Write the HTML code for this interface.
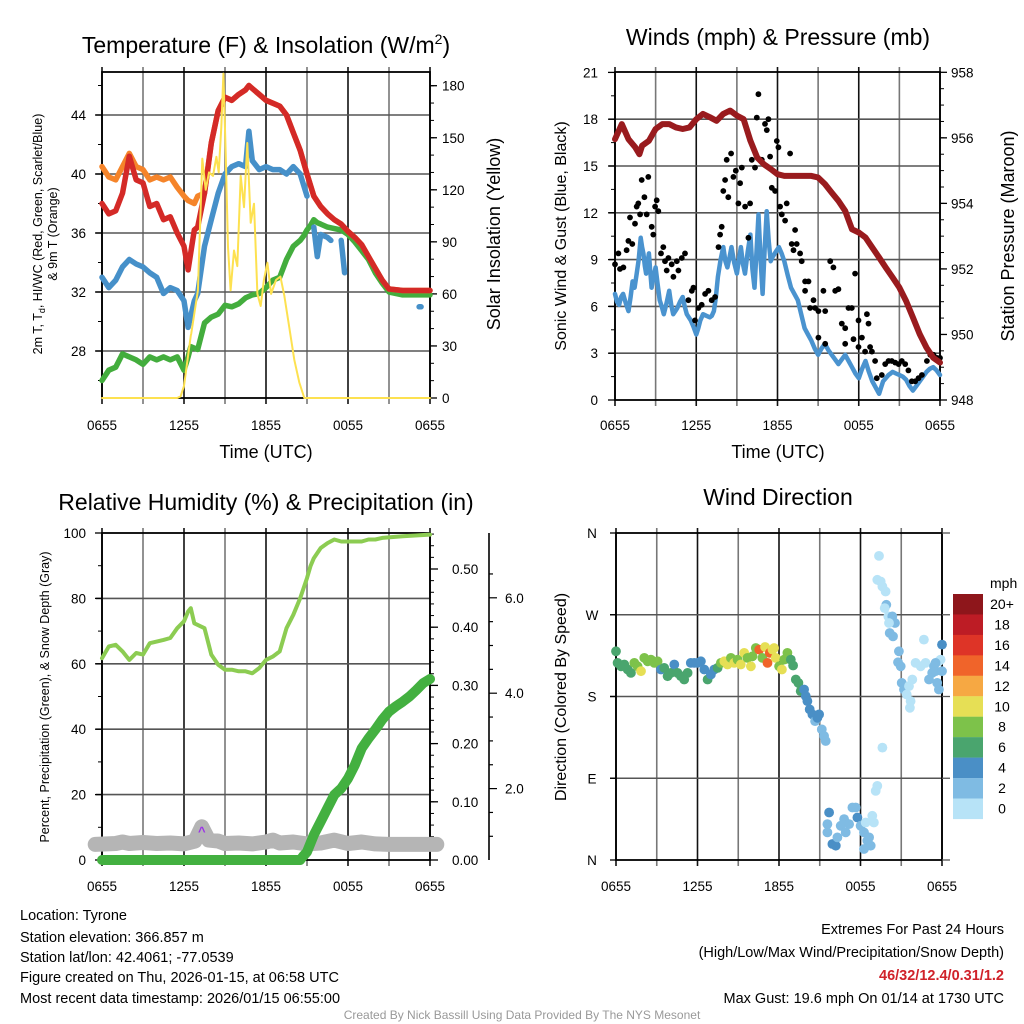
<!DOCTYPE html>
<html><head><meta charset="utf-8"><style>
html,body{margin:0;padding:0;background:#fff}
svg{display:block;font-family:"Liberation Sans",Arial,sans-serif}
</style></head><body>
<svg id="c" width="1024" height="1024" viewBox="0 0 1024 1024">
<rect width="1024" height="1024" fill="#fff"/>
<text x="266" y="53" font-size="23" text-anchor="middle">Temperature (F) &amp; Insolation (W/m<tspan dy="-9" font-size="14">2</tspan><tspan dy="9">)</tspan></text>
<text x="778" y="45" font-size="23" text-anchor="middle">Winds (mph) &amp; Pressure (mb)</text>
<text x="266" y="510" font-size="23" text-anchor="middle">Relative Humidity (%) &amp; Precipitation (in)</text>
<text x="778" y="505" font-size="23" text-anchor="middle">Wind Direction</text>
<text x="266" y="458" font-size="18" text-anchor="middle">Time (UTC)</text>
<text x="778" y="458" font-size="18" text-anchor="middle">Time (UTC)</text>
<text transform="translate(42,234) rotate(-90)" font-size="12.5" text-anchor="middle">2m T, T<tspan dy="3" font-size="9">d</tspan><tspan dy="-3">, HI/WC (Red, Green, Scarlet/Blue)</tspan></text>
<text transform="translate(57,234) rotate(-90)" font-size="12.5" text-anchor="middle">&amp; 9m T (Orange)</text>
<text transform="translate(500,234) rotate(-90)" font-size="18" text-anchor="middle">Solar Insolation (Yellow)</text>
<text transform="translate(566,236) rotate(-90)" font-size="16" text-anchor="middle">Sonic Wind &amp; Gust (Blue, Black)</text>
<text transform="translate(1014,236) rotate(-90)" font-size="18" text-anchor="middle">Station Pressure (Maroon)</text>
<text transform="translate(49,697) rotate(-90)" font-size="12.5" text-anchor="middle">Percent, Precipitation (Green), &amp; Snow Depth (Gray)</text>
<text transform="translate(566,697) rotate(-90)" font-size="16" text-anchor="middle">Direction (Colored By Speed)</text>
<g font-size="14.5">
<text x="20" y="920">Location: Tyrone</text>
<text x="20" y="942">Station elevation: 366.857 m</text>
<text x="20" y="962">Station lat/lon: 42.4061; -77.0539</text>
<text x="20" y="982">Figure created on Thu, 2026-01-15, at 06:58 UTC</text>
<text x="20" y="1003">Most recent data timestamp: 2026/01/15 06:55:00</text>
</g>
<g font-size="14.5" text-anchor="end">
<text x="1004" y="934">Extremes For Past 24 Hours</text>
<text x="1004" y="957">(High/Low/Max Wind/Precipitation/Snow Depth)</text>
<text x="1004" y="980" fill="#d0222a" font-weight="bold">46/32/12.4/0.31/1.2</text>
<text x="1004" y="1003">Max Gust: 19.6 mph On 01/14 at 1730 UTC</text>
</g>
<text x="522" y="1019" font-size="12" fill="#999" text-anchor="middle">Created By Nick Bassill Using Data Provided By The NYS Mesonet</text>
</svg>
<script>
// ---------- DATA ----------
const xTickLabels=["0655","1255","1855","0055","0655"];
// Temperature panel
const tHours=[0,0.5,1,1.5,2,2.5,3,3.5,4,4.5,5,5.5,6,6.3,6.75,7,7.5,8,8.5,9,9.5,10,10.5,10.75,11,11.5,12,12.5,13,13.5,14,14.5,15,15.5,16,16.5,17,17.5,18,18.5,19,19.5,20,20.5,21,22,23,24];
const tempRed=[38.0,37.3,37.5,38.7,41.2,39.6,39.4,37.8,38.0,36.9,37.1,36.0,35.1,33.5,36.2,36.4,38.7,42.1,44.3,45.2,45.0,45.4,45.7,46.0,45.8,45.4,45.0,44.8,44.6,44.0,42.8,41.6,40.0,38.5,37.8,37.3,36.9,36.6,36.1,35.7,35.2,34.4,33.6,32.8,32.2,32.1,32.1,32.1];
const tempOrange=[40.5,39.8,39.6,40.5,41.4,40.5,40.3,39.6,39.8,39.6,39.8,39.1,38.5,38.2,38.0,38.5,38.7,42.1,44.3,45.2,45.0,45.4,45.7,46.0,45.8,45.4,45.0,44.8,44.6,44.0,42.8,41.6,40.0,38.5,37.8,37.3,36.9,36.6,36.1,35.7,35.2,34.4,33.6,32.8,32.2,32.1,32.1,32.1];
const wcHours=[0,0.5,1,1.5,2,2.5,3,3.5,4,4.5,5,5.5,6,6.3,6.75,7,7.5,8,8.5,9,9.5,10,10.5,10.75,11,11.5,12,12.5,13,13.5,14,14.5,14.8,15,15.3,15.5,15.75,16,16.5,16.75,17.2,17.5,17.75,17.8,23.2,23.35];
const tempBlue=[33.0,32.3,32.8,33.7,34.2,33.9,33.7,33.3,33.0,31.9,32.3,32.1,31.4,29.6,31.4,31.9,35.1,36.9,38.7,40.0,40.5,40.7,40.5,42.9,40.9,40.3,40.5,40.3,40.3,40.0,40.5,40.0,39.1,38.5,null,36.4,34.4,35.9,35.7,35.5,null,35.5,33.3,null,31.0,31.0];
const tempGreen=[26.0,26.7,26.9,27.8,27.6,27.4,27.1,27.6,27.4,27.6,27.4,27.6,26.7,27.6,28.3,28.1,29.9,30.3,30.5,31.1,31.0,31.2,31.6,31.7,31.8,31.9,32.3,32.8,33.0,34.2,35.1,35.5,35.8,36.2,36.5,36.9,36.7,36.6,36.5,36.4,36.3,36.2,35.9,35.4,34.8,34.2,33.3,32.6,32.0,31.8,31.8,31.8];
const dpHours=[0,0.5,1,1.5,2,2.5,3,3.5,4,4.5,5,5.5,6,6.3,6.5,7,7.5,8,8.5,9,9.5,10,10.5,10.75,11,11.5,12,12.5,13,13.5,14,14.5,14.75,15,15.25,15.5,15.75,16,16.25,16.5,17,17.5,18,18.5,19,19.5,20,20.5,21,22,23,24];
const solHours=[0,5.5,5.75,6,6.5,6.53,7.02,7.34,7.59,7.83,8.12,8.37,8.54,8.73,8.88,9.05,9.22,9.41,9.66,9.9,10.15,10.39,10.63,10.88,11.12,11.37,11.61,11.85,12.1,12.37,12.73,13.05,13.34,13.7,14.07,14.44,14.8,24];
const solar=[0,0,1,7,36,37,62,138,120,130,128,139,130,156,187,141,87,62,85,76,128,110,147,101,112,60,53,68,78,60,68,70,59,41,22,9,0,0];
// Winds panel
const wHours=[0,0.15,0.3,0.45,0.6,0.8,1,1.15,1.3,1.45,1.6,1.75,1.9,2.0,2.1,2.2,2.3,2.4,2.5,2.6,2.7,2.85,3,3.15,3.3,3.45,3.6,3.8,4,4.15,4.3,4.45,4.6,4.8,5,5.15,5.3,5.45,5.6,5.8,6,6.15,6.3,6.4,6.5,6.75,7,7.15,7.3,7.45,7.6,7.8,8,8.15,8.3,8.45,8.6,8.8,9,9.15,9.3,9.45,9.6,9.8,10,10.15,10.3,10.45,10.6,10.75,10.9,11.05,11.2,11.35,11.5,11.65,11.8,11.95,12.1,12.3,12.5,12.75,13,13.25,13.5,13.75,14,14.25,14.5,14.75,15,15.25,15.5,15.75,16,16.25,16.5,16.75,17,17.25,17.5,17.75,18,18.25,18.5,18.75,19,19.25,19.5,19.65,19.8,20,20.2,20.35,20.5,20.75,21,21.25,21.5,21.75,22,22.25,22.5,22.75,23,23.25,23.5,23.75,24];
const windSpeed=[6.8,6.3,6.1,6.6,6.8,6.2,5.7,6.6,7.6,7.2,8.1,9.0,10.4,9.8,9.4,8.6,8.1,8.8,9.4,8.3,7.2,7.9,8.5,7.4,6.4,6.0,5.5,6.2,7.0,6.1,5.5,5.7,5.9,6.3,6.6,6.0,5.5,5.3,5.1,4.7,4.2,4.6,5.1,5.3,5.5,5.4,5.3,5.4,5.7,6.6,7.9,9.0,9.8,8.9,8.5,9.1,9.8,8.8,8.1,9.0,9.8,8.7,8.1,9.5,10.6,8.4,7.2,9.5,11.9,9.0,6.8,9.6,12.1,10.2,8.9,9.2,9.4,9.6,9.8,9.4,8.9,8.0,7.2,6.8,6.4,5.5,4.6,4.2,3.8,3.3,2.9,3.3,3.6,3.2,2.9,2.6,2.3,2.6,2.9,2.5,2.1,1.7,1.4,2.0,2.5,1.8,1.2,0.8,0.4,0.8,1.2,1.4,1.6,1.7,1.8,1.7,1.6,1.5,1.3,0.9,0.6,0.9,1.2,1.5,1.8,2.0,2.1,1.9,1.6];
const gustHours=[0,0.25,0.37,0.62,0.86,0.99,1.11,1.28,1.48,1.6,1.72,1.85,1.97,2.17,2.34,2.46,2.71,2.83,2.96,3.08,3.2,3.4,3.57,3.69,3.82,3.94,4.19,4.31,4.56,4.68,4.93,5.17,5.42,5.67,5.79,5.91,6.16,6.4,6.65,6.9,7.14,7.39,7.64,7.76,7.88,8.0,8.13,8.25,8.37,8.57,8.74,8.92,9.11,9.24,9.36,9.61,9.85,9.98,10.1,10.34,10.47,10.59,10.84,11.08,11.21,11.33,11.45,11.58,11.82,11.95,12.07,12.19,12.32,12.56,12.68,12.93,13.05,13.18,13.3,13.42,13.67,13.79,14.04,14.29,14.04,14.41,14.66,14.78,15.02,15.39,15.52,15.89,16.13,16.26,16.5,16.75,17.0,17.24,17.49,17.73,17.98,18.23,18.6,18.72,18.97,19.21,19.33,19.7,19.95,20.2,20.44,20.69,20.94,21.18,21.43,21.67,21.92,22.17,22.41,22.66,23.03,23.28,23.52,23.77,24.0,15.02,15.52,17.0,17.61,17.98,18.47,18.84];
const gusts=[8.7,9.4,8.4,8.5,9.6,10.2,11.7,10.0,11.3,12.4,12.6,11.9,14.1,13.0,11.9,14.3,11.1,10.6,12.4,12.8,12.1,9.4,9.8,8.9,8.3,9.1,8.7,7.9,8.9,8.3,9.1,9.4,6.4,7.0,7.2,5.1,5.9,6.1,6.8,7.0,6.4,6.6,9.8,10.6,11.1,13.4,14.1,15.4,13.0,15.8,14.3,14.7,12.6,13.9,14.9,12.4,10.4,12.6,15.4,14.9,18.1,19.6,15.4,17.7,17.3,18.0,15.6,13.6,13.4,16.6,16.2,12.4,11.9,11.5,12.6,15.8,10.0,9.6,10.9,10.0,9.4,8.9,7.6,7.6,7.0,5.9,6.4,5.9,5.7,7.0,5.7,8.9,8.5,7.0,7.1,4.9,4.6,5.9,5.9,8.1,5.1,4.0,5.5,4.9,3.1,2.5,1.4,1.6,2.3,2.5,2.5,2.4,2.3,2.5,2.3,1.9,1.2,1.2,1.4,1.6,2.5,2.9,2.9,2.7,2.7,4.0,3.6,3.6,3.9,3.4,3.1,3.4];
const pHours=[0,0.5,1,1.5,1.8,2,2.5,3,3.5,4,4.5,5,5.5,6,6.5,7,7.5,8,8.5,9,9.5,10,10.5,11,11.5,12,12.5,13,14,14.5,15,15.5,16,16.5,17,17.5,18,18.5,19,19.5,20,20.5,21,21.5,22,22.5,23,23.5,24];
const pressure=[955.96,956.42,955.96,955.71,955.5,955.76,955.91,956.27,956.42,956.42,956.32,956.27,956.32,956.57,956.73,956.63,956.52,956.73,956.83,956.68,956.57,955.91,955.40,955.19,955.05,954.89,954.84,954.84,954.84,954.84,954.79,954.59,954.33,954.08,953.77,953.21,953.11,952.96,952.65,952.35,952.04,951.74,951.43,951.02,950.52,950.01,949.60,949.29,949.14];
// RH panel
const rhHours=[0,0.5,1,1.5,2,2.5,3,3.5,4,4.5,5,5.5,6,6.3,6.5,6.75,7,7.5,8,8.5,9,9.5,10,10.5,11,11.5,12,12.5,13,13.5,14,14.5,15,15.25,15.5,16,16.5,17,17.5,18,19,19.5,20,20.5,22,24];
const relHum=[61.7,65.3,65.8,63.8,61.2,63.3,62.8,66.3,66.8,67.3,67.9,70.9,73.0,76.0,77.0,72.4,71.9,70.9,62.8,59.7,58.2,58.2,57.7,57.7,57.1,58.7,61.2,62.2,63.8,70.9,75.0,80.1,86.2,89.8,92.3,95.4,96.9,98.0,97.4,97.4,97.4,98.0,98.0,98.5,99.0,99.5];
const prHours=[0,14.5,14.7,15,15.5,16,16.5,17,17.5,18,18.5,19,19.5,20,20.5,21,21.5,22,22.5,23,23.5,24];
const precip=[0,0,0.006,0.014,0.043,0.066,0.089,0.112,0.123,0.140,0.163,0.192,0.209,0.224,0.241,0.255,0.264,0.272,0.281,0.292,0.304,0.311];
const snHours=[-0.5,1,1.5,2,3,4,5,6,6.8,7.3,7.8,8.5,9,10,11,12,12.5,13,14,15,16,17,18,19,20,21,22,23,24.5];
const snowDepth=[0.83,0.85,0.88,0.85,0.87,0.85,0.86,0.84,0.9,1.2,0.92,0.9,0.85,0.86,0.84,0.88,0.92,0.86,0.88,0.84,0.86,0.92,0.85,0.88,0.84,0.83,0.83,0.83,0.83];
// Wind direction panel
const dirHours=[0,0.12,0.37,0.61,0.86,1.10,1.35,1.59,1.84,2.08,2.33,2.57,2.82,3.06,3.31,3.55,3.80,4.04,4.29,4.53,4.78,5.02,5.27,5.51,5.76,6.00,6.25,6.50,6.74,6.99,7.23,7.48,7.72,7.97,8.21,8.46,8.70,8.95,9.19,9.44,9.68,9.93,10.05,10.29,10.54,10.78,10.98,11.15,11.32,11.52,11.64,11.76,12.01,12.21,12.38,12.62,12.87,13.04,13.24,13.43,13.60,13.85,13.97,14.09,14.26,14.46,14.66,14.83,14.95,15.15,15.32,15.44,15.69,15.56,15.93,16.18,15.56,16.30,16.54,16.79,16.91,17.16,17.40,17.65,17.77,18.01,18.26,18.38,18.50,18.63,18.75,18.26,18.87,18.99,19.12,19.24,19.61,19.36,19.24,19.49,19.61,19.85,19.90,19.78,20.05,20.34,20.54,20.15,20.39,20.10,20.83,20.76,20.96,21.03,21.20,21.40,21.57,21.69,21.64,21.81,22.06,22.43,22.67,22.79,23.04,23.28,23.41,23.53,23.65,23.77,23.90,24.0,24.0,23.77,23.53];
const dirDeg=[229.8,217.0,213.3,215.2,209.7,206.0,217.0,213.3,207.8,222.5,218.8,220.6,217.0,218.8,209.7,211.5,202.3,206.0,215.2,206.0,202.3,198.7,206.0,217.0,217.0,217.0,218.8,209.7,198.7,204.2,209.7,211.5,217.0,218.8,215.2,222.5,217.0,220.6,215.2,228.0,222.5,213.3,224.3,233.4,231.6,222.5,234.5,217.0,228.0,231.6,233.4,222.5,213.3,209.7,220.6,228.0,220.6,214.1,198.7,195.0,185.9,187.7,180.4,174.9,165.8,160.3,152.9,156.6,160.3,143.8,136.5,131.0,52.3,39.5,17.6,15.7,30.4,24.9,37.7,45.0,30.4,39.5,57.8,57.8,46.8,37.7,30.4,41.3,21.2,24.9,15.7,12.1,48.7,41.3,76.1,81.6,123.7,334.8,308.5,306.6,301.1,295.6,281.0,277.3,268.2,268.2,260.9,249.9,246.2,260.9,229.8,217.7,213.3,195.0,187.7,182.2,191.4,174.9,167.6,198.7,217.0,213.3,242.6,217.0,198.7,206.0,213.3,207.8,195.0,187.7,220.6,237.1,207.8,218.8,217.0];
const dirSpeed=[6,6,6,6,6,6,8,8,10,8,8,8,8,8,4,6,6,6,4,6,6,6,6,4,4,4,4,4,6,4,4,6,8,10,10,8,10,8,10,10,8,10,8,8,14,8,10,14,14,10,10,10,8,10,8,8,6,6,6,6,6,4,4,4,4,4,2,4,4,2,2,2,4,2,4,4,2,2,2,2,2,2,2,2,4,2,2,0.5,2,2,2,2,0.5,0.5,0.5,0.5,0.5,0.5,0.5,0.5,0.5,0.5,2,0.5,0.5,2,2,2,2,0.5,2,2,2,2,2,0.5,0.5,0.5,0.5,0.5,0.5,0.5,0.5,0.5,2,2,2,2,2,2,0.5,4,2,0.5,2];
const speedLabels=["20+","18","16","14","12","10","8","6","4","2","0"];
const speedColors=["#8e161b","#bd1c25","#de3427","#f0642a","#f6a843","#e6df55","#7dc24a","#4aa56e","#4a8fc6","#7fbbe3","#b7e3f7"];

// ---------- DRAW ----------
const NS="http://www.w3.org/2000/svg";
const svg=document.getElementById('c');
function el(tag,attrs,parent){const e=document.createElementNS(NS,tag);for(const k in attrs)e.setAttribute(k,attrs[k]);(parent||svg).appendChild(e);return e;}
function lin(d0,d1,r0,r1){return v=>r0+(v-d0)*(r1-r0)/(d1-d0);}
function pathFrom(xs,ys,fx,fy){let d="",pen=false;for(let i=0;i<xs.length;i++){if(ys[i]===null){pen=false;continue;}d+=(pen?"L":"M")+fx(xs[i]).toFixed(1)+","+fy(ys[i]).toFixed(1);pen=true;}return d;}

const P1={L:102,R:430,T:72,B:398},P2={L:615,R:940,T:72,B:400},P3={L:102,R:430,T:533,B:860},P4={L:616,R:942,T:533,B:860};

function frame(P,name,hLines,fy,xlabY){
  const g=el('g',{});
  
  
  const fx=lin(0,24,P.L,P.R);
  for(let h=0;h<=24;h+=3){const x=fx(h);el('line',{x1:x,x2:x,y1:P.T-5,y2:P.B+6,stroke:(h%6===0)?'#111':'#777','stroke-width':1.6},g);}
  hLines.forEach(v=>{const y=fy(v);el('line',{x1:P.L-6,x2:P.R,y1:y,y2:y,stroke:'#555','stroke-width':1.6},g);});
  el('rect',{x:P.L,y:P.T,width:P.R-P.L,height:P.B-P.T,fill:'none',stroke:'#000','stroke-width':1.8},g);
  xTickLabels.forEach((t,i)=>{const tx=el('text',{x:fx(i*6),y:xlabY,'font-size':13.5,'text-anchor':'middle'},g);tx.textContent=t;
    
    });
  return fx;
}
function yTicks(P,side,vals,fy,fmt,minor,lx,len){
  const g=el('g',{});
  
  
  const x0=side==='left'?P.L:P.R,dir=side==='left'?-1:1;
  vals.forEach(v=>{const y=fy(v);el('line',{x1:x0,x2:x0+dir*(len||7),y1:y,y2:y,stroke:'#000','stroke-width':1.3},g);
    const t=el('text',{x:lx,y:y+5,'font-size':13.5,'text-anchor':side==='left'?'end':'start'},g);t.textContent=fmt(v);});
  (minor||[]).forEach(v=>{const y=fy(v);el('line',{x1:x0,x2:x0+dir*4,y1:y,y2:y,stroke:'#000','stroke-width':1},g);});
}
function range(a,b,s){const r=[];for(let v=a;v<=b+1e-9;v+=s)r.push(+v.toFixed(4));return r;}
function line(xs,ys,fx,fy,color,w,name){const p=el('path',{d:pathFrom(xs,ys,fx,fy),fill:'none',stroke:color,'stroke-width':w,'stroke-linejoin':'round','stroke-linecap':'round'});
  
  return p;}

// Panel 1
const ty=lin(40,44,174,115), iy=lin(0,180,398,85.7);
const fx1=frame(P1,'temperature',[28,32,36,40,44],ty,430);
yTicks(P1,'left',[28,32,36,40,44],ty,v=>v,[26,30,34,38,42,46],86);
yTicks(P1,'right',[0,30,60,90,120,150,180],iy,v=>v,range(10,180,10),442);
line(dpHours,tempGreen,fx1,ty,'#43ad3d',5.5,'dewpoint-line');
line(wcHours,tempBlue,fx1,ty,'#4690c9',5.5,'windchill-line');
line(tHours,tempOrange,fx1,ty,'#f5842a',5.5,'temp-9m-line');
line(tHours,tempRed,fx1,ty,'#d42a27',5.5,'temp-2m-line');
line(solHours,solar,fx1,iy,'#fde150',2,'insolation-line');

// Panel 2
const wy=lin(0,21,400,72.4), py=lin(948,958,400,72.3);
const fx2=frame(P2,'winds',[3,6,9,12,15,18],wy,430);
yTicks(P2,'left',[0,3,6,9,12,15,18,21],wy,v=>v,range(1.5,19.5,3),598);
yTicks(P2,'right',[948,950,952,954,956,958],py,v=>v,range(948.5,957.5,0.5),951);
line(wHours,windSpeed,fx2,wy,'#4a93cf',4.5,'sonic-wind-line');
gustHours.forEach((h,i)=>{const c=el('circle',{cx:fx2(h).toFixed(1),cy:wy(gusts[i]).toFixed(1),r:2.9,fill:'#000'});
  
  });
line(pHours,pressure,fx2,py,'#991b1e',6,'pressure-line');

// Panel 3
const ry=lin(0,100,860,533), pry=lin(0,0.5,860,569), sy=lin(0,2,884,788.6);
const fx3=frame(P3,'humidity',[20,40,60,80],ry,891);
yTicks(P3,'left',[0,20,40,60,80,100],ry,v=>v,[10,30,50,70,90],86);
yTicks(P3,'right',[0,0.1,0.2,0.3,0.4,0.5],pry,v=>v.toFixed(2),range(0.02,0.56,0.02),452,8);
(function(){const g=el('g',{});
  
  
  el('line',{x1:489,x2:489,y1:533,y2:860,stroke:'#000','stroke-width':1.6},g);
  range(1,6.5,0.5).forEach(v=>{const y=sy(v);if(y<533||y>860)return;const maj=(v%2===0);el('line',{x1:489,x2:489+(maj?8:4),y1:y,y2:y,stroke:'#000','stroke-width':1.2},g);
    if(maj){const t=el('text',{x:505,y:y+5,'font-size':13.5},g);t.textContent=v.toFixed(1);}});})();
line(snHours,snowDepth,fx3,sy,'#b5b5b5',15,'snow-depth-line');
line(rhHours,relHum,fx3,ry,'#8ccc52',4,'relative-humidity-line');
line(prHours,precip,fx3,pry,'#43b040',10,'precipitation-line');
(function(){const t=el('text',{x:fx3(7.3),y:sy(1.2)+9,'font-size':13,'font-weight':'bold',fill:'#9b30e8','text-anchor':'middle'});t.textContent='^';
  
  })();

// Panel 4
const dy=lin(0,360,860,533);
const fx4=frame(P4,'direction',[90,180,270],dy,891);
(function(){const g=el('g',{});
  
  
  ['N','E','S','W','N'].forEach((lab,i)=>{const y=dy(i*90);el('line',{x1:P4.L-6,x2:P4.L,y1:y,y2:y,stroke:'#000','stroke-width':1.3},g);
    el('line',{x1:P4.R,x2:P4.R+8,y1:y,y2:y,stroke:'#555','stroke-width':1.3},g);
    const t=el('text',{x:592,y:y+5,'font-size':13.5,'text-anchor':'middle'},g);t.textContent=lab;});})();
dirHours.forEach((h,i)=>{const idx=Math.max(0,10-Math.min(10,Math.round(dirSpeed[i]/2)));
  const c=el('circle',{cx:fx4(h).toFixed(1),cy:dy(dirDeg[i]).toFixed(1),r:4.9,fill:speedColors[idx]});
  
  });
(function(){const g=el('g',{});
  
  
  const t0=el('text',{x:990,y:588,'font-size':14,'text-anchor':'start'},g);t0.textContent='mph';
  speedLabels.forEach((lab,i)=>{const y=594+i*20.45;el('rect',{x:953,y:y,width:30,height:20.6,fill:speedColors[i]},g);
    const t=el('text',{x:1002,y:y+15,'font-size':14,'text-anchor':'middle'},g);t.textContent=lab;});})();
</script>
</body></html>
